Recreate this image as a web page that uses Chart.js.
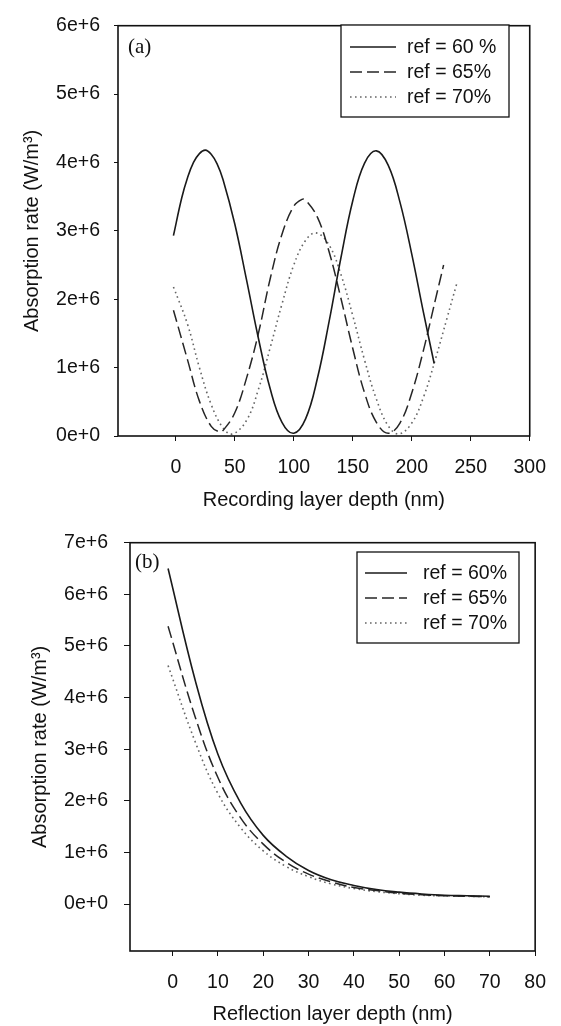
<!DOCTYPE html>
<html>
<head>
<meta charset="utf-8">
<script src="https://cdn.jsdelivr.net/npm/chart.js@4.4.1/dist/chart.umd.min.js"></script>
<style>
  html, body { margin: 0; padding: 0; background: #fff; }
  #wrap { position: relative; width: 561px; height: 1026px; }
  canvas { position: absolute; left: 0; }
  #chart-a { top: 0; }
  #chart-b { top: 515px; }
</style>
</head>
<body>
<div id="wrap">
  <canvas id="chart-a" width="561" height="515"></canvas>
  <canvas id="chart-b" width="561" height="511"></canvas>
</div>
<script>
// (a) absorption vs recording layer depth, rates in units of 1e6 W/m3
const labelsA = ['ref = 60 %', 'ref = 65%', 'ref = 70%'];
const depthA60 = [-2, 5, 10, 15, 20, 25, 30, 35, 40, 50, 60, 70, 80, 90, 100, 110, 120, 130, 140, 150, 160, 170, 180, 190, 200, 210, 219];
const rateA60 = [2.93, 3.48, 3.78, 4.00, 4.13, 4.18, 4.12, 3.98, 3.75, 3.10, 2.28, 1.43, 0.69, 0.20, 0.04, 0.25, 0.84, 1.68, 2.61, 3.44, 3.99, 4.17, 3.96, 3.42, 2.66, 1.80, 1.06];
const depthA65 = [-2, 10, 20, 30, 37, 40, 50, 60, 70, 80, 90, 100, 107, 110, 120, 130, 140, 150, 160, 170, 180, 190, 200, 210, 220, 227];
const rateA65 = [1.84, 1.11, 0.51, 0.14, 0.06, 0.08, 0.34, 0.85, 1.50, 2.30, 2.95, 3.36, 3.46, 3.45, 3.20, 2.69, 2.01, 1.28, 0.63, 0.20, 0.04, 0.19, 0.63, 1.26, 1.99, 2.50];
const depthA70 = [-2, 10, 20, 30, 40, 48, 60, 70, 80, 90, 100, 110, 119, 130, 140, 150, 160, 170, 180, 189, 200, 210, 220, 230, 238];
const rateA70 = [2.18, 1.63, 1.00, 0.46, 0.12, 0.03, 0.23, 0.68, 1.29, 1.93, 2.50, 2.86, 2.97, 2.79, 2.36, 1.76, 1.11, 0.54, 0.15, 0.03, 0.19, 0.57, 1.12, 1.73, 2.22];
const xTicksA = [0, 50, 100, 150, 200, 250, 300];
const yTicksA = [0, 1, 2, 3, 4, 5, 6];

// (b) absorption vs reflection layer depth
const labelsB = ['ref = 60%', 'ref = 65%', 'ref = 70%'];
const depthB = [-1, 5, 10, 15, 20, 25, 30, 35, 40, 45, 50, 55, 60, 65, 70];
const rateB60 = [6.50, 4.33, 2.90, 1.96, 1.33, 0.93, 0.65, 0.47, 0.36, 0.28, 0.23, 0.195, 0.17, 0.16, 0.15];
const rateB65 = [5.38, 3.62, 2.45, 1.67, 1.16, 0.81, 0.58, 0.43, 0.32, 0.26, 0.21, 0.18, 0.16, 0.15, 0.14];
const rateB70 = [4.62, 3.14, 2.14, 1.48, 1.03, 0.73, 0.53, 0.39, 0.30, 0.24, 0.20, 0.17, 0.16, 0.15, 0.14];
const xTicksB = [0, 10, 20, 30, 40, 50, 60, 70, 80];
const yTicksB = [0, 1, 2, 3, 4, 5, 6, 7];

const INK = '#111';
const SANS = 'Liberation Sans, Arial, sans-serif';

const toPoints = (xs, ys) => xs.map((x, i) => ({ x: x, y: ys[i] }));
const expLabel = v => v === 0 ? '0e+0' : v + 'e+6';

// three line styles: solid, dashed, dotted
const lineStyles = [
    { borderColor: '#1a1a1a', borderWidth: 1.6, borderDash: [] },
    { borderColor: '#262626', borderWidth: 1.5, borderDash: [12, 5] },
    { borderColor: '#666', borderWidth: 1.6, borderDash: [1.6, 3.4] }
];

function makeDatasets(labels, series) {
    return series.map((pts, i) => Object.assign({
        label: labels[i],
        data: pts,
        pointRadius: 0,
        fill: false,
        tension: 0.4
    }, lineStyles[i]));
}

// frame box, panel tag and boxed legend drawn over the plot
const framePlugin = {
    id: 'frame',
    afterDraw(chart, args, opts) {
        const { ctx, chartArea: a } = chart;
        ctx.save();
        ctx.strokeStyle = INK;
        ctx.lineWidth = 1.6;
        ctx.strokeRect(a.left, a.top, a.right - a.left, a.bottom - a.top);

        ctx.fillStyle = INK;
        ctx.textBaseline = 'middle';
        ctx.font = '21px "Liberation Serif", "Times New Roman", serif';
        ctx.fillText(opts.tag, a.left + opts.tagDx, a.top + opts.tagDy);

        const b = opts.box;
        ctx.fillStyle = '#fff';
        ctx.fillRect(b.x, b.y, b.w, b.h);
        ctx.lineWidth = 1.3;
        ctx.strokeStyle = INK;
        ctx.strokeRect(b.x, b.y, b.w, b.h);
        ctx.font = '19.5px ' + SANS;
        chart.data.datasets.forEach((ds, i) => {
            const y = b.y + b.first + i * b.step;
            ctx.beginPath();
            ctx.setLineDash(ds.borderDash);
            ctx.strokeStyle = ds.borderColor;
            ctx.lineWidth = ds.borderWidth;
            ctx.moveTo(b.x + b.line0, y);
            ctx.lineTo(b.x + b.line1, y);
            ctx.stroke();
            ctx.setLineDash([]);
            ctx.fillStyle = INK;
            ctx.fillText(ds.label, b.x + b.text, y + 1);
        });
        ctx.restore();
    }
};

function makeChart(id, c) {
    const tickFont = { family: SANS, size: 19.5 };
    const titleFont = { family: SANS, size: 20 };
    return new Chart(document.getElementById(id), {
        type: 'line',
        data: { datasets: makeDatasets(c.labels, c.series) },
        plugins: [framePlugin],
        options: {
            responsive: false,
            devicePixelRatio: 1,
            animation: false,
            layout: { padding: c.padding },
            plugins: {
                legend: { display: false },
                tooltip: { enabled: false },
                frame: c.frame
            },
            scales: {
                x: {
                    type: 'linear',
                    min: c.xMin,
                    max: c.xMax,
                    afterBuildTicks: s => { s.ticks = c.xTicks.map(v => ({ value: v })); },
                    afterFit: s => { s.height = c.xHeight; },
                    border: { display: false },
                    grid: { drawOnChartArea: false, drawTicks: true, tickLength: 5, color: INK, lineWidth: 1 },
                    ticks: { color: INK, font: tickFont, padding: 15, maxRotation: 0, autoSkip: false },
                    title: { display: true, text: c.xTitle, color: INK, font: titleFont, padding: { top: 0, bottom: c.xTitlePad } }
                },
                y: {
                    min: c.yMin,
                    max: c.yMax,
                    afterBuildTicks: s => { s.ticks = c.yTicks.map(v => ({ value: v })); },
                    afterFit: s => { s.width = c.yWidth; },
                    border: { display: false },
                    grid: { drawOnChartArea: false, drawTicks: true, tickLength: c.yTickLen, color: INK, lineWidth: 1 },
                    ticks: { color: INK, font: tickFont, padding: c.yTickPad, callback: expLabel },
                    title: { display: true, text: 'Absorption rate (W/m³)', color: INK, font: titleFont, padding: { top: c.yTitlePad, bottom: 0 } }
                }
            }
        }
    });
}

makeChart('chart-a', {
    labels: labelsA,
    series: [toPoints(depthA60, rateA60), toPoints(depthA65, rateA65), toPoints(depthA70, rateA70)],
    xMin: -49, xMax: 300, xTicks: xTicksA,
    yMin: 0, yMax: 6, yTicks: yTicksA,
    xTitle: 'Recording layer depth (nm)',
    padding: { top: 15, right: 31, bottom: 0, left: 0 },
    xHeight: 79, xTitlePad: 3,
    yWidth: 118, yTickLen: 4, yTickPad: 14, yTitlePad: 20,
    frame: {
        tag: '(a)', tagDx: 10, tagDy: 22,
        box: { x: 341, y: 25, w: 168, h: 92, first: 22, step: 25, line0: 9, line1: 55, text: 66 }
    }
});

makeChart('chart-b', {
    labels: labelsB,
    series: [toPoints(depthB, rateB60), toPoints(depthB, rateB65), toPoints(depthB, rateB70)],
    xMin: -9.4, xMax: 80, xTicks: xTicksB,
    yMin: -0.91, yMax: 7, yTicks: yTicksB,
    xTitle: 'Reflection layer depth (nm)',
    padding: { top: 20, right: 19, bottom: 0, left: 0 },
    xHeight: 75, xTitlePad: 0,
    yWidth: 130, yTickLen: 6, yTickPad: 16, yTitlePad: 28,
    frame: {
        tag: '(b)', tagDx: 5, tagDy: 20,
        box: { x: 357, y: 37, w: 162, h: 91, first: 21, step: 25, line0: 8, line1: 50, text: 66 }
    }
});
</script>
</body>
</html>
